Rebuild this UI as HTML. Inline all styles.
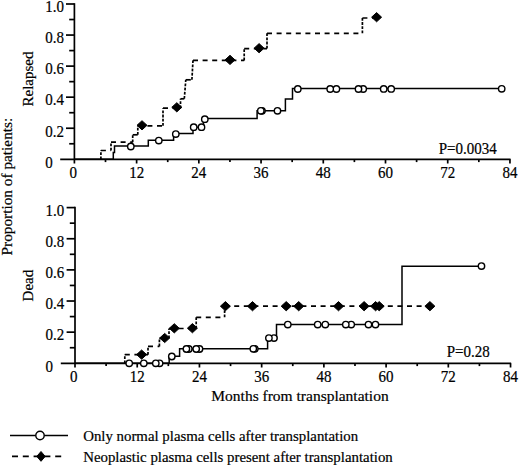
<!DOCTYPE html>
<html><head><meta charset="utf-8"><style>
html,body{margin:0;padding:0;background:#fff;}
body{width:520px;height:466px;overflow:hidden;}
svg{display:block;}
text{font-family:"Liberation Serif", serif;fill:#000;stroke:#000;stroke-width:0.2px;}
</style></head><body>
<svg width="520" height="466" viewBox="0 0 520 466">
<rect width="520" height="466" fill="#fff"/>
<line x1="74.4" y1="3.2" x2="74.4" y2="159.3" stroke="#000" stroke-width="1.7"/>
<line x1="60.2" y1="159.3" x2="510.54" y2="159.3" stroke="#000" stroke-width="1.7"/>
<line x1="69.2" y1="143.77" x2="74.4" y2="143.77" stroke="#000" stroke-width="1.7"/>
<line x1="66" y1="128.24" x2="74.4" y2="128.24" stroke="#000" stroke-width="1.7"/>
<line x1="69.2" y1="112.71" x2="74.4" y2="112.71" stroke="#000" stroke-width="1.7"/>
<line x1="66" y1="97.18" x2="74.4" y2="97.18" stroke="#000" stroke-width="1.7"/>
<line x1="69.2" y1="81.65" x2="74.4" y2="81.65" stroke="#000" stroke-width="1.7"/>
<line x1="66" y1="66.12" x2="74.4" y2="66.12" stroke="#000" stroke-width="1.7"/>
<line x1="69.2" y1="50.59" x2="74.4" y2="50.59" stroke="#000" stroke-width="1.7"/>
<line x1="66" y1="35.06" x2="74.4" y2="35.06" stroke="#000" stroke-width="1.7"/>
<line x1="69.2" y1="19.53" x2="74.4" y2="19.53" stroke="#000" stroke-width="1.7"/>
<line x1="66" y1="4" x2="74.4" y2="4" stroke="#000" stroke-width="1.7"/>
<line x1="74.4" y1="159.3" x2="74.4" y2="163.5" stroke="#000" stroke-width="1.7"/>
<line x1="105.51" y1="159.3" x2="105.51" y2="162.1" stroke="#000" stroke-width="1.7"/>
<line x1="136.62" y1="159.3" x2="136.62" y2="163.5" stroke="#000" stroke-width="1.7"/>
<line x1="167.73" y1="159.3" x2="167.73" y2="162.1" stroke="#000" stroke-width="1.7"/>
<line x1="198.84" y1="159.3" x2="198.84" y2="163.5" stroke="#000" stroke-width="1.7"/>
<line x1="229.95" y1="159.3" x2="229.95" y2="162.1" stroke="#000" stroke-width="1.7"/>
<line x1="261.06" y1="159.3" x2="261.06" y2="163.5" stroke="#000" stroke-width="1.7"/>
<line x1="292.17" y1="159.3" x2="292.17" y2="162.1" stroke="#000" stroke-width="1.7"/>
<line x1="323.28" y1="159.3" x2="323.28" y2="163.5" stroke="#000" stroke-width="1.7"/>
<line x1="354.39" y1="159.3" x2="354.39" y2="162.1" stroke="#000" stroke-width="1.7"/>
<line x1="385.5" y1="159.3" x2="385.5" y2="163.5" stroke="#000" stroke-width="1.7"/>
<line x1="416.61" y1="159.3" x2="416.61" y2="162.1" stroke="#000" stroke-width="1.7"/>
<line x1="447.72" y1="159.3" x2="447.72" y2="163.5" stroke="#000" stroke-width="1.7"/>
<line x1="478.83" y1="159.3" x2="478.83" y2="162.1" stroke="#000" stroke-width="1.7"/>
<line x1="509.94" y1="159.3" x2="509.94" y2="163.5" stroke="#000" stroke-width="1.7"/>
<text transform="translate(45.3 167.6) scale(1 1.1)" font-size="15">0</text>
<text transform="translate(45.3 136.54) scale(1 1.1)" font-size="15">0.2</text>
<text transform="translate(45.3 105.48) scale(1 1.1)" font-size="15">0.4</text>
<text transform="translate(45.3 74.42) scale(1 1.1)" font-size="15">0.6</text>
<text transform="translate(45.3 43.36) scale(1 1.1)" font-size="15">0.8</text>
<text transform="translate(45.3 12.3) scale(1 1.1)" font-size="15">1.0</text>
<text transform="translate(73.2 177.9) scale(1 1.08)" font-size="15" text-anchor="middle">0</text>
<text transform="translate(136.62 177.9) scale(1 1.08)" font-size="15" text-anchor="middle">12</text>
<text transform="translate(198.84 177.9) scale(1 1.08)" font-size="15" text-anchor="middle">24</text>
<text transform="translate(261.06 177.9) scale(1 1.08)" font-size="15" text-anchor="middle">36</text>
<text transform="translate(323.28 177.9) scale(1 1.08)" font-size="15" text-anchor="middle">48</text>
<text transform="translate(385.5 177.9) scale(1 1.08)" font-size="15" text-anchor="middle">60</text>
<text transform="translate(447.72 177.9) scale(1 1.08)" font-size="15" text-anchor="middle">72</text>
<text transform="translate(509.94 177.9) scale(1 1.08)" font-size="15" text-anchor="middle">84</text>
<text transform="translate(438.7 154.1) scale(1 1.1)" font-size="15">P=0.0034</text>
<text transform="translate(32.7 79) rotate(-90)" font-size="15" text-anchor="middle">Relapsed</text>
<line x1="100.9" y1="159.3" x2="100.9" y2="150.5" stroke="#000" stroke-width="1.7" stroke-dasharray="2.8 1.4"/>
<line x1="100.9" y1="150.5" x2="111" y2="150.5" stroke="#000" stroke-width="1.7" stroke-dasharray="5 4.6"/>
<line x1="111" y1="150.5" x2="111" y2="142.2" stroke="#000" stroke-width="1.7" stroke-dasharray="2.8 1.4"/>
<line x1="111" y1="142.2" x2="132.7" y2="142.2" stroke="#000" stroke-width="1.7" stroke-dasharray="5 4.6"/>
<line x1="132.7" y1="142.2" x2="132.7" y2="134.8" stroke="#000" stroke-width="1.7" stroke-dasharray="2.8 1.4"/>
<line x1="132.7" y1="134.8" x2="137.8" y2="134.8" stroke="#000" stroke-width="1.7" stroke-dasharray="5 4.6"/>
<line x1="137.8" y1="134.8" x2="137.8" y2="125.8" stroke="#000" stroke-width="1.7" stroke-dasharray="2.8 1.4"/>
<line x1="137.8" y1="125.8" x2="163" y2="125.8" stroke="#000" stroke-width="1.7" stroke-dasharray="5 4.6"/>
<line x1="163" y1="125.8" x2="163" y2="108.2" stroke="#000" stroke-width="1.7" stroke-dasharray="2.8 1.4"/>
<line x1="163" y1="108.2" x2="180.5" y2="108.2" stroke="#000" stroke-width="1.7" stroke-dasharray="5 4.6"/>
<line x1="180.5" y1="108.2" x2="180.5" y2="98.8" stroke="#000" stroke-width="1.7" stroke-dasharray="2.8 1.4"/>
<line x1="180.5" y1="98.8" x2="184.3" y2="98.8" stroke="#000" stroke-width="1.7" stroke-dasharray="5 4.6"/>
<line x1="184.3" y1="98.8" x2="185.8" y2="79.8" stroke="#000" stroke-width="1.7" stroke-dasharray="2.8 1.4"/>
<line x1="185.8" y1="79.8" x2="191.9" y2="79.8" stroke="#000" stroke-width="1.7" stroke-dasharray="5 4.6"/>
<line x1="191.9" y1="79.8" x2="193" y2="60.4" stroke="#000" stroke-width="1.7" stroke-dasharray="2.8 1.4"/>
<line x1="193" y1="60.4" x2="244.2" y2="60.4" stroke="#000" stroke-width="1.7" stroke-dasharray="5 4.6"/>
<line x1="244.2" y1="60.4" x2="244.2" y2="48.6" stroke="#000" stroke-width="1.7" stroke-dasharray="2.8 1.4"/>
<line x1="244.2" y1="48.6" x2="267" y2="48.6" stroke="#000" stroke-width="1.7" stroke-dasharray="5 4.6"/>
<line x1="267" y1="48.6" x2="267" y2="33.3" stroke="#000" stroke-width="1.7" stroke-dasharray="2.8 1.4"/>
<line x1="267" y1="33.3" x2="362.4" y2="33.3" stroke="#000" stroke-width="1.7" stroke-dasharray="5 4.6"/>
<line x1="362.4" y1="33.3" x2="362.4" y2="18" stroke="#000" stroke-width="1.7" stroke-dasharray="2.8 1.4"/>
<line x1="362.4" y1="18" x2="376.6" y2="18" stroke="#000" stroke-width="1.7" stroke-dasharray="5 4.6"/>
<path d="M74.4 159.3 L113.3 159.3 L113.3 152.5 L114.5 152.5 L114.5 146.1 L148.3 146.1 L148.3 140.3 L173.6 140.3 L173.6 133.6 L193 133.6 L193 127.2 L203.5 127.2 L203.5 118.6 L257.1 118.6 L257.1 110.8 L285.4 110.8 L285.4 99.1 L292.5 99.1 L292.5 88.4 L501.7 88.4" fill="none" stroke="#000" stroke-width="1.5"/>
<circle cx="501.7" cy="88.8" r="3.2" fill="#fff" stroke="#000" stroke-width="1.4"/>
<circle cx="391.2" cy="88.9" r="3.2" fill="#fff" stroke="#000" stroke-width="1.4"/>
<circle cx="383.7" cy="88.9" r="3.2" fill="#fff" stroke="#000" stroke-width="1.4"/>
<circle cx="363.2" cy="89" r="3.2" fill="#fff" stroke="#000" stroke-width="1.4"/>
<circle cx="358.5" cy="89" r="3.2" fill="#fff" stroke="#000" stroke-width="1.4"/>
<circle cx="336.4" cy="89" r="3.2" fill="#fff" stroke="#000" stroke-width="1.4"/>
<circle cx="330.2" cy="89" r="3.2" fill="#fff" stroke="#000" stroke-width="1.4"/>
<circle cx="297.8" cy="89" r="3.2" fill="#fff" stroke="#000" stroke-width="1.4"/>
<circle cx="277.5" cy="110.8" r="3.2" fill="#fff" stroke="#000" stroke-width="1.4"/>
<circle cx="262" cy="110.8" r="3.2" fill="#fff" stroke="#000" stroke-width="1.4"/>
<circle cx="260.8" cy="110.8" r="3.2" fill="#fff" stroke="#000" stroke-width="1.4"/>
<circle cx="204.8" cy="119.2" r="3.2" fill="#fff" stroke="#000" stroke-width="1.4"/>
<circle cx="201.5" cy="127.2" r="3.2" fill="#fff" stroke="#000" stroke-width="1.4"/>
<circle cx="193.7" cy="127.2" r="3.2" fill="#fff" stroke="#000" stroke-width="1.4"/>
<circle cx="175.8" cy="134.1" r="3.2" fill="#fff" stroke="#000" stroke-width="1.4"/>
<circle cx="158.8" cy="140.6" r="3.2" fill="#fff" stroke="#000" stroke-width="1.4"/>
<circle cx="130.8" cy="146.5" r="3.2" fill="#fff" stroke="#000" stroke-width="1.4"/>
<path d="M137 125.3 L142 120.7 L147 125.3 L142 129.9 Z" fill="#000" stroke="#000" stroke-width="1" stroke-linejoin="round"/>
<path d="M171.8 107.3 L176.8 102.7 L181.8 107.3 L176.8 111.9 Z" fill="#000" stroke="#000" stroke-width="1" stroke-linejoin="round"/>
<path d="M225 59.9 L230 55.3 L235 59.9 L230 64.5 Z" fill="#000" stroke="#000" stroke-width="1" stroke-linejoin="round"/>
<path d="M254.1 48.2 L259.1 43.6 L264.1 48.2 L259.1 52.8 Z" fill="#000" stroke="#000" stroke-width="1" stroke-linejoin="round"/>
<path d="M371.6 17.2 L376.6 12.6 L381.6 17.2 L376.6 21.8 Z" fill="#000" stroke="#000" stroke-width="1" stroke-linejoin="round"/>
<line x1="75" y1="206.8" x2="75" y2="363.3" stroke="#000" stroke-width="1.7"/>
<line x1="60.8" y1="363.3" x2="511.14" y2="363.3" stroke="#000" stroke-width="1.7"/>
<line x1="69.8" y1="347.73" x2="75" y2="347.73" stroke="#000" stroke-width="1.7"/>
<line x1="66.6" y1="332.16" x2="75" y2="332.16" stroke="#000" stroke-width="1.7"/>
<line x1="69.8" y1="316.59" x2="75" y2="316.59" stroke="#000" stroke-width="1.7"/>
<line x1="66.6" y1="301.02" x2="75" y2="301.02" stroke="#000" stroke-width="1.7"/>
<line x1="69.8" y1="285.45" x2="75" y2="285.45" stroke="#000" stroke-width="1.7"/>
<line x1="66.6" y1="269.88" x2="75" y2="269.88" stroke="#000" stroke-width="1.7"/>
<line x1="69.8" y1="254.31" x2="75" y2="254.31" stroke="#000" stroke-width="1.7"/>
<line x1="66.6" y1="238.74" x2="75" y2="238.74" stroke="#000" stroke-width="1.7"/>
<line x1="69.8" y1="223.17" x2="75" y2="223.17" stroke="#000" stroke-width="1.7"/>
<line x1="66.6" y1="207.6" x2="75" y2="207.6" stroke="#000" stroke-width="1.7"/>
<line x1="75" y1="363.3" x2="75" y2="367.5" stroke="#000" stroke-width="1.7"/>
<line x1="106.11" y1="363.3" x2="106.11" y2="366.1" stroke="#000" stroke-width="1.7"/>
<line x1="137.22" y1="363.3" x2="137.22" y2="367.5" stroke="#000" stroke-width="1.7"/>
<line x1="168.33" y1="363.3" x2="168.33" y2="366.1" stroke="#000" stroke-width="1.7"/>
<line x1="199.44" y1="363.3" x2="199.44" y2="367.5" stroke="#000" stroke-width="1.7"/>
<line x1="230.55" y1="363.3" x2="230.55" y2="366.1" stroke="#000" stroke-width="1.7"/>
<line x1="261.66" y1="363.3" x2="261.66" y2="367.5" stroke="#000" stroke-width="1.7"/>
<line x1="292.77" y1="363.3" x2="292.77" y2="366.1" stroke="#000" stroke-width="1.7"/>
<line x1="323.88" y1="363.3" x2="323.88" y2="367.5" stroke="#000" stroke-width="1.7"/>
<line x1="354.99" y1="363.3" x2="354.99" y2="366.1" stroke="#000" stroke-width="1.7"/>
<line x1="386.1" y1="363.3" x2="386.1" y2="367.5" stroke="#000" stroke-width="1.7"/>
<line x1="417.21" y1="363.3" x2="417.21" y2="366.1" stroke="#000" stroke-width="1.7"/>
<line x1="448.32" y1="363.3" x2="448.32" y2="367.5" stroke="#000" stroke-width="1.7"/>
<line x1="479.43" y1="363.3" x2="479.43" y2="366.1" stroke="#000" stroke-width="1.7"/>
<line x1="510.54" y1="363.3" x2="510.54" y2="367.5" stroke="#000" stroke-width="1.7"/>
<text transform="translate(45.6 371.6) scale(1 1.1)" font-size="15">0</text>
<text transform="translate(45.6 340.46) scale(1 1.1)" font-size="15">0.2</text>
<text transform="translate(45.6 309.32) scale(1 1.1)" font-size="15">0.4</text>
<text transform="translate(45.6 278.18) scale(1 1.1)" font-size="15">0.6</text>
<text transform="translate(45.6 247.04) scale(1 1.1)" font-size="15">0.8</text>
<text transform="translate(45.6 215.9) scale(1 1.1)" font-size="15">1.0</text>
<text transform="translate(73.8 381.9) scale(1 1.08)" font-size="15" text-anchor="middle">0</text>
<text transform="translate(137.22 381.9) scale(1 1.08)" font-size="15" text-anchor="middle">12</text>
<text transform="translate(199.44 381.9) scale(1 1.08)" font-size="15" text-anchor="middle">24</text>
<text transform="translate(261.66 381.9) scale(1 1.08)" font-size="15" text-anchor="middle">36</text>
<text transform="translate(323.88 381.9) scale(1 1.08)" font-size="15" text-anchor="middle">48</text>
<text transform="translate(386.1 381.9) scale(1 1.08)" font-size="15" text-anchor="middle">60</text>
<text transform="translate(448.32 381.9) scale(1 1.08)" font-size="15" text-anchor="middle">72</text>
<text transform="translate(510.54 381.9) scale(1 1.08)" font-size="15" text-anchor="middle">84</text>
<text transform="translate(446.7 357) scale(1 1.1)" font-size="15">P=0.28</text>
<text transform="translate(33.2 285.6) rotate(-90)" font-size="15" text-anchor="middle">Dead</text>
<line x1="124.8" y1="363.3" x2="124.8" y2="354.7" stroke="#000" stroke-width="1.7" stroke-dasharray="2.8 1.4"/>
<line x1="124.8" y1="354.7" x2="148" y2="354.7" stroke="#000" stroke-width="1.7" stroke-dasharray="5 4.6"/>
<line x1="148" y1="354.7" x2="148" y2="346.4" stroke="#000" stroke-width="1.7" stroke-dasharray="2.8 1.4"/>
<line x1="148" y1="346.4" x2="159.4" y2="346.4" stroke="#000" stroke-width="1.7" stroke-dasharray="5 4.6"/>
<line x1="159.4" y1="346.4" x2="159.4" y2="338.3" stroke="#000" stroke-width="1.7" stroke-dasharray="2.8 1.4"/>
<line x1="159.4" y1="338.3" x2="169" y2="338.3" stroke="#000" stroke-width="1.7" stroke-dasharray="5 4.6"/>
<line x1="169" y1="338.3" x2="169" y2="328.5" stroke="#000" stroke-width="1.7" stroke-dasharray="2.8 1.4"/>
<line x1="169" y1="328.5" x2="196.2" y2="328.5" stroke="#000" stroke-width="1.7" stroke-dasharray="5 4.6"/>
<line x1="196.2" y1="328.5" x2="196.2" y2="317.3" stroke="#000" stroke-width="1.7" stroke-dasharray="2.8 1.4"/>
<line x1="196.2" y1="317.3" x2="224.6" y2="317.3" stroke="#000" stroke-width="1.7" stroke-dasharray="5 4.6"/>
<line x1="224.6" y1="317.3" x2="224.6" y2="306.1" stroke="#000" stroke-width="1.7" stroke-dasharray="2.8 1.4"/>
<line x1="224.6" y1="306.1" x2="430" y2="306.1" stroke="#000" stroke-width="1.7" stroke-dasharray="5 4.6"/>
<path d="M75 363.3 L169.2 363.3 L169.2 356.3 L179.6 356.3 L179.6 348.7 L267.6 348.7 L267.6 338.1 L276.5 338.1 L276.5 324.6 L402 324.6 L402 266.2 L481.5 266.2" fill="none" stroke="#000" stroke-width="1.5"/>
<circle cx="481.5" cy="266.1" r="3.2" fill="#fff" stroke="#000" stroke-width="1.4"/>
<circle cx="375.5" cy="324.6" r="3.2" fill="#fff" stroke="#000" stroke-width="1.4"/>
<circle cx="368.5" cy="324.6" r="3.2" fill="#fff" stroke="#000" stroke-width="1.4"/>
<circle cx="351.2" cy="324.6" r="3.2" fill="#fff" stroke="#000" stroke-width="1.4"/>
<circle cx="345.8" cy="324.6" r="3.2" fill="#fff" stroke="#000" stroke-width="1.4"/>
<circle cx="325.3" cy="324.6" r="3.2" fill="#fff" stroke="#000" stroke-width="1.4"/>
<circle cx="317.7" cy="324.6" r="3.2" fill="#fff" stroke="#000" stroke-width="1.4"/>
<circle cx="287.8" cy="324.6" r="3.2" fill="#fff" stroke="#000" stroke-width="1.4"/>
<circle cx="274" cy="338.1" r="3.2" fill="#fff" stroke="#000" stroke-width="1.4"/>
<circle cx="268.9" cy="338.1" r="3.2" fill="#fff" stroke="#000" stroke-width="1.4"/>
<circle cx="254.8" cy="348.8" r="3.2" fill="#fff" stroke="#000" stroke-width="1.4"/>
<circle cx="253.3" cy="348.8" r="3.2" fill="#fff" stroke="#000" stroke-width="1.4"/>
<circle cx="199.5" cy="349" r="3.2" fill="#fff" stroke="#000" stroke-width="1.4"/>
<circle cx="196.2" cy="349" r="3.2" fill="#fff" stroke="#000" stroke-width="1.4"/>
<circle cx="188.8" cy="349" r="3.2" fill="#fff" stroke="#000" stroke-width="1.4"/>
<circle cx="186.4" cy="349" r="3.2" fill="#fff" stroke="#000" stroke-width="1.4"/>
<circle cx="171.8" cy="356.5" r="3.2" fill="#fff" stroke="#000" stroke-width="1.4"/>
<circle cx="159.6" cy="363.3" r="3.2" fill="#fff" stroke="#000" stroke-width="1.4"/>
<circle cx="155.8" cy="363.3" r="3.2" fill="#fff" stroke="#000" stroke-width="1.4"/>
<circle cx="143.8" cy="363.3" r="3.2" fill="#fff" stroke="#000" stroke-width="1.4"/>
<circle cx="129.2" cy="363.3" r="3.2" fill="#fff" stroke="#000" stroke-width="1.4"/>
<path d="M136.6 354.6 L141.6 350 L146.6 354.6 L141.6 359.2 Z" fill="#000" stroke="#000" stroke-width="1" stroke-linejoin="round"/>
<path d="M159.7 338 L164.7 333.4 L169.7 338 L164.7 342.6 Z" fill="#000" stroke="#000" stroke-width="1" stroke-linejoin="round"/>
<path d="M169.3 328.3 L174.3 323.7 L179.3 328.3 L174.3 332.9 Z" fill="#000" stroke="#000" stroke-width="1" stroke-linejoin="round"/>
<path d="M187.4 328.2 L192.4 323.6 L197.4 328.2 L192.4 332.8 Z" fill="#000" stroke="#000" stroke-width="1" stroke-linejoin="round"/>
<path d="M220.4 306.2 L225.4 301.6 L230.4 306.2 L225.4 310.8 Z" fill="#000" stroke="#000" stroke-width="1" stroke-linejoin="round"/>
<path d="M247.5 306.2 L252.5 301.6 L257.5 306.2 L252.5 310.8 Z" fill="#000" stroke="#000" stroke-width="1" stroke-linejoin="round"/>
<path d="M281.2 306.2 L286.2 301.6 L291.2 306.2 L286.2 310.8 Z" fill="#000" stroke="#000" stroke-width="1" stroke-linejoin="round"/>
<path d="M293.7 306.2 L298.7 301.6 L303.7 306.2 L298.7 310.8 Z" fill="#000" stroke="#000" stroke-width="1" stroke-linejoin="round"/>
<path d="M333.5 306.2 L338.5 301.6 L343.5 306.2 L338.5 310.8 Z" fill="#000" stroke="#000" stroke-width="1" stroke-linejoin="round"/>
<path d="M359.1 306.2 L364.1 301.6 L369.1 306.2 L364.1 310.8 Z" fill="#000" stroke="#000" stroke-width="1" stroke-linejoin="round"/>
<path d="M370.6 306.2 L375.6 301.6 L380.6 306.2 L375.6 310.8 Z" fill="#000" stroke="#000" stroke-width="1" stroke-linejoin="round"/>
<path d="M374.2 306.2 L379.2 301.6 L384.2 306.2 L379.2 310.8 Z" fill="#000" stroke="#000" stroke-width="1" stroke-linejoin="round"/>
<path d="M424.9 306.2 L429.9 301.6 L434.9 306.2 L429.9 310.8 Z" fill="#000" stroke="#000" stroke-width="1" stroke-linejoin="round"/>
<text transform="translate(12.2 186.6) rotate(-90)" font-size="15.3" text-anchor="middle">Proportion of patients:</text>
<text x="211.3" y="400.8" font-size="15.5">Months from transplantation</text>
<line x1="10" y1="435.5" x2="68" y2="435.5" stroke="#000" stroke-width="1.6"/>
<circle cx="40" cy="435.5" r="4.2" fill="#fff" stroke="#000" stroke-width="1.4"/>
<line x1="12" y1="456.4" x2="62" y2="456.4" stroke="#000" stroke-width="1.7" stroke-dasharray="6 4.8"/>
<path d="M36.8 456.4 L41 451.5 L45.2 456.4 L41 461.3 Z" fill="#000" stroke="#000" stroke-width="1" stroke-linejoin="round"/>
<text x="83.2" y="441" font-size="14.85">Only normal plasma cells after transplantation</text>
<text x="83.2" y="461.7" font-size="14.85">Neoplastic plasma cells present after transplantation</text>
</svg>
</body></html>
